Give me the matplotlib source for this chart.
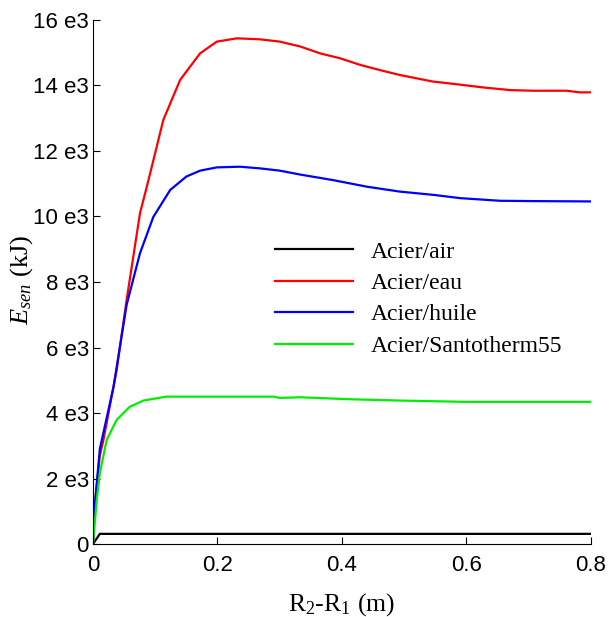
import matplotlib
matplotlib.use("Agg")
import matplotlib.pyplot as plt
from matplotlib.ticker import FuncFormatter

# curves (x in m, y in kJ)
x_air = [0.0, 0.011, 0.05, 0.2, 0.4, 0.6, 0.8]
y_air = [0.0, 310, 310, 310, 310, 310, 310]

x_eau = [0.0, 0.003, 0.011, 0.017, 0.038, 0.054, 0.0755, 0.089, 0.113, 0.14,
         0.172, 0.199, 0.231, 0.268, 0.300, 0.333, 0.365, 0.397, 0.429, 0.461,
         0.493, 0.546, 0.579, 0.627, 0.67, 0.707, 0.761, 0.782, 0.8]
y_eau = [0, 1200, 2700, 3200, 5310, 7450, 10100, 11100, 12950, 14170,
         14980, 15340, 15440, 15410, 15340, 15190, 14980, 14830, 14630, 14470,
         14320, 14120, 14050, 13940, 13860, 13840, 13840, 13790, 13790]

x_huile = [0.0, 0.003, 0.011, 0.033, 0.054, 0.0755, 0.097, 0.124, 0.15, 0.172,
           0.199, 0.236, 0.268, 0.3, 0.333, 0.386, 0.44, 0.493, 0.547, 0.59,
           0.654, 0.707, 0.8]
y_huile = [0, 1200, 2900, 4800, 7300, 8880, 9990, 10810, 11220, 11400,
           11500, 11520, 11470, 11400, 11280, 11110, 10910, 10760, 10660, 10560,
           10480, 10470, 10460]

x_santo = [0.0, 0.006, 0.011, 0.022, 0.038, 0.059, 0.081, 0.118, 0.29, 0.3,
           0.333, 0.413, 0.493, 0.6, 0.8]
y_santo = [0, 1340, 2160, 3180, 3790, 4190, 4380, 4500, 4500, 4460,
           4480, 4420, 4380, 4340, 4340]

labels = ['Acier/air', 'Acier/eau', 'Acier/huile', 'Acier/Santotherm55']
colors = ['#000000', '#ff0000', '#0000ff', '#00ee00']

plt.rcParams['mathtext.fontset'] = 'custom'
plt.rcParams['mathtext.rm'] = 'Liberation Serif'
plt.rcParams['mathtext.it'] = 'Liberation Serif:italic'


def y_fmt(v, pos):
    if v == 0:
        return '0'
    return '%d e3' % round(v / 1000)


def x_fmt(v, pos):
    if v == 0:
        return '0'
    return '%.1f' % v


def main():
    fig = plt.figure(figsize=(6.13, 6.17), dpi=100)
    ax = fig.add_axes([0.1517, 0.1183, 0.8124, 0.8493])

    series = [(x_air, y_air), (x_eau, y_eau), (x_huile, y_huile), (x_santo, y_santo)]
    for (xs, ys), lab, col in zip(series, labels, colors):
        ax.plot(xs, ys, color=col, lw=1.6, label=lab)

    ax.set_xlim(0, 0.8)
    ax.set_ylim(0, 16000)
    ax.set_xticks([0, 0.2, 0.4, 0.6, 0.8])
    ax.set_yticks(range(0, 16001, 2000))
    ax.xaxis.set_major_formatter(FuncFormatter(x_fmt))
    ax.yaxis.set_major_formatter(FuncFormatter(y_fmt))
    ax.tick_params(direction='in', length=5, width=0.8, labelsize=16)
    ax.tick_params(axis='x', pad=8)
    ax.tick_params(axis='y', pad=3)
    for t in ax.get_xticklabels() + ax.get_yticklabels():
        t.set_family('Liberation Sans')

    ax.spines['top'].set_visible(False)
    ax.spines['right'].set_visible(False)

    ax.set_xlabel('R$_2$-R$_1$ (m)', fontsize=18.5, family='Liberation Serif')
    ax.xaxis.set_label_coords(0.5, -0.09)
    ax.set_ylabel('$E_{sen}$ (kJ)', fontsize=19, family='Liberation Serif')
    ax.yaxis.set_label_coords(-0.116, 0.504)

    fig.legend(loc='upper left', bbox_to_anchor=(275 / 613, (617 - 241) / 617),
               frameon=False, borderpad=0, borderaxespad=0, handlelength=3.3,
               handletextpad=0.75, labelspacing=0.42,
               prop={'family': 'Liberation Serif', 'size': 17})

    fig.savefig('out.png', dpi=100)


if __name__ == "__main__":
    main()
